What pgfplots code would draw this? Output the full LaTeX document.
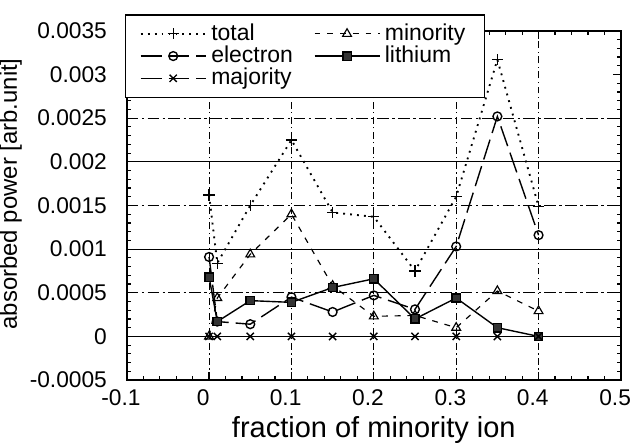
\documentclass[border=0pt]{standalone}
\usepackage{fontspec}
\setmainfont{Liberation Sans}
\usepackage{pgfplots}
\usepackage{pgfplotstable}
\pgfplotsset{compat=1.18}

% fraction, total, electron, majority, minority, lithium
\pgfplotstableread{
x     total    electron  majority  minority  lithium
0     0.00162  0.00091   0         0         0.00068
0.01  0.00084  0.00017   0         0.00044   0.00017
0.05  0.00150  0.00014   0         0.00094   0.00041
0.10  0.00225  0.00045   0         0.00140   0.00039
0.15  0.00142  0.00028   0         0.00058   0.00056
0.20  0.00137  0.00047   0         0.00023   0.00066
0.25  0.00075  0.00031   0         0.00024   0.00020
0.30  0.00160  0.00103   0         0.00010   0.00044
0.35  0.00317  0.00252   0         0.00052   0.00010
0.40  0.00149  0.00116   0         0.00029   0
}\data

\pgfplotsset{
    longleg/.style={legend image code/.code={%
        \draw[mark repeat=2,mark phase=2,##1] plot coordinates {(0pt,0pt) (14pt,0pt) (28pt,0pt)};}},
}

\begin{document}
\begin{tikzpicture}
\begin{axis}[
    name=ax,
    scale only axis,
    width=213pt, height=150.5pt,
    xmin=-0.1, xmax=0.5,
    ymin=-0.0005, ymax=0.0035,
    xtick={-0.1,0,0.1,0.2,0.3,0.4,0.5},
    ytick={-0.0005,0,0.0005,0.001,0.0015,0.002,0.0025,0.003,0.0035},
    minor x tick num=4,
    minor y tick num=4,
    major tick length=3.4pt,
    minor tick length=1.8pt,
    tick style={black, line width=0.5pt},
    axis line style={line width=0.7pt},
    scaled y ticks=false,
    scaled x ticks=false,
    ticklabel style={font=\fontsize{9.8}{11}\selectfont},
    /pgf/number format/assume math mode=true,
    yticklabel style={/pgf/number format/fixed, /pgf/number format/precision=4, xshift=-5pt},
    xticklabel style={/pgf/number format/fixed, /pgf/number format/precision=1, xshift=-2.5pt, yshift=-0.7pt},
    xlabel={fraction of minority ion},
    ylabel={absorbed power [arb.unit]},
    xlabel style={font=\fontsize{12.5}{14}\selectfont, at={([yshift=-24.6pt]axis description cs:0.5,0)}, anchor=base},
    ylabel style={font=\fontsize{10.3}{12}\selectfont, at={([xshift=-41.7pt, yshift=5pt]axis description cs:0,0.5)}, anchor=south},
    xmajorgrids=true,
    every axis x grid/.style={black, line width=0.35pt, dash pattern=on 3pt off 1.5pt on 0.5pt off 1.5pt},
    extra y ticks={0.0005,0.0015,0.0025},
    extra y tick labels={},
    extra y tick style={grid=major, major grid style={black, line width=0.4pt, dash pattern=on 5pt off 1.5pt on 1pt off 1.5pt}},
    legend columns=2,
    legend cell align=left,
    legend style={at={(0,1)}, anchor=north west, xshift=-0.9pt, yshift=7.3pt,
        font=\fontsize{9.9}{11}\selectfont,
        draw=black, line width=0.7pt, fill=white,
        inner xsep=6.2pt, inner ysep=2.7pt, row sep=-1.5pt,
        /tikz/every even column/.append style={column sep=7pt},
        nodes={inner xsep=2pt, inner ysep=1.2pt}},
]
% solid horizontal grid lines
\addplot[black, line width=0.5pt, forget plot] coordinates {(-0.1,0) (0.5,0)};
\addplot[black, line width=0.5pt, forget plot] coordinates {(-0.1,0.001) (0.5,0.001)};
\addplot[black, line width=0.5pt, forget plot] coordinates {(-0.1,0.002) (0.5,0.002)};

\addplot[longleg, black, line width=0.8pt, dash pattern=on 0.8pt off 2.2pt, mark=+, mark size=2.4pt, mark options={solid, line width=0.5pt}]
    table[x=x, y=total] {\data};
\addlegendentry{total}
\addplot[longleg, black, line width=0.5pt, dash pattern=on 2.5pt off 3pt, mark=triangle, mark size=2.2pt, mark options={solid, fill=white}]
    table[x=x, y=minority] {\data};
\addlegendentry{minority}
\addplot[longleg, black, line width=0.6pt, dash pattern=on 9pt off 3pt, mark=o, mark size=1.9pt, mark options={solid, fill=white}]
    table[x=x, y=electron] {\data};
\addlegendentry{electron}
\addplot[longleg, black, line width=0.6pt, mark=square*, mark size=1.8pt, mark options={solid, fill=black!80}]
    table[x=x, y=lithium] {\data};
\addlegendentry{lithium}
\addplot[longleg, black, line width=0.6pt, dash pattern=on 9pt off 3pt, mark=x, mark size=2.2pt, mark options={solid}]
    table[x=x, y=majority] {\data};
\addlegendentry{majority}
\end{axis}
\pgfresetboundingbox
\path ([xshift=-54.6pt, yshift=-27.8pt]ax.south west) rectangle ([xshift=5.2pt, yshift=13.3pt]ax.north east);
\end{tikzpicture}
\end{document}
